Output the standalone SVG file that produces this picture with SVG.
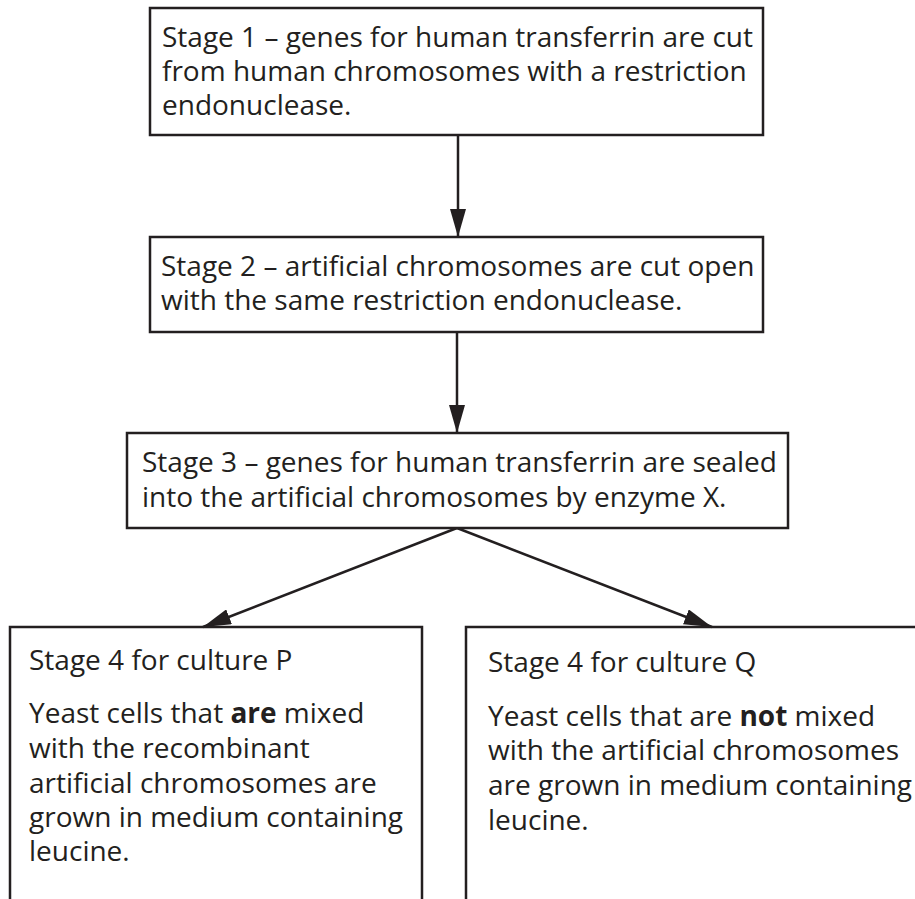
<svg xmlns="http://www.w3.org/2000/svg" width="915" height="899" viewBox="0 0 915 899">
<style>
  .box { fill: #ffffff; stroke: #231f20; stroke-width: 2.5; }
  .edge { fill: none; stroke: #231f20; stroke-width: 2.5; }
  text { font-family: "Open Sans", "Noto Sans", "Liberation Sans", sans-serif; font-size: 28px; fill: #231f20; }
  .b { font-weight: bold; }
</style>
<defs>
  <marker id="arrow" markerUnits="userSpaceOnUse" viewBox="0 0 28 16" refX="28" refY="8" markerWidth="28" markerHeight="16" orient="auto">
    <path d="M0,0 L28,8 L0,16 Z" fill="#231f20"/>
  </marker>
</defs>
<rect width="915" height="899" fill="#ffffff"/>
<g id="connectors">
  <line class="edge" x1="458" y1="135" x2="458" y2="237" marker-end="url(#arrow)"/>
  <line class="edge" x1="457" y1="332" x2="457" y2="433" marker-end="url(#arrow)"/>
  <line class="edge" x1="457" y1="528" x2="203" y2="627" marker-end="url(#arrow)"/>
  <line class="edge" x1="457" y1="528" x2="712" y2="627" marker-end="url(#arrow)"/>
</g>
<g id="stage1">
  <rect class="box" x="150" y="8" width="613" height="127"/>
  <text x="162" y="47">Stage 1 – genes for human transferrin are cut</text>
  <text x="162" y="81">from human chromosomes with a restriction</text>
  <text x="162" y="115">endonuclease.</text>
</g>
<g id="stage2">
  <rect class="box" x="150" y="237" width="613" height="95"/>
  <text x="161" y="276">Stage 2 – artificial chromosomes are cut open</text>
  <text x="161" y="310">with the same restriction endonuclease.</text>
</g>
<g id="stage3">
  <rect class="box" x="127" y="433" width="661" height="95"/>
  <text x="142" y="472">Stage 3 – genes for human transferrin are sealed</text>
  <text x="142" y="507">into the artificial chromosomes by enzyme X.</text>
</g>
<g id="cultureP">
  <path class="edge" d="M10,902 L10,627 L422,627 L422,902"/>
  <text x="29" y="670">Stage 4 for culture P</text>
  <text x="29" y="723">Yeast cells that <tspan class="b">are</tspan> mixed</text>
  <text x="29" y="758">with the recombinant</text>
  <text x="29" y="793">artificial chromosomes are</text>
  <text x="29" y="827">grown in medium containing</text>
  <text x="29" y="861">leucine.</text>
</g>
<g id="cultureQ">
  <path class="edge" d="M466,902 L466,627 L918,627"/>
  <text x="488" y="672">Stage 4 for culture Q</text>
  <text x="488" y="726">Yeast cells that are <tspan class="b">not</tspan> mixed</text>
  <text x="488" y="760">with the artificial chromosomes</text>
  <text x="488" y="795">are grown in medium containing</text>
  <text x="488" y="830">leucine.</text>
</g>
</svg>
